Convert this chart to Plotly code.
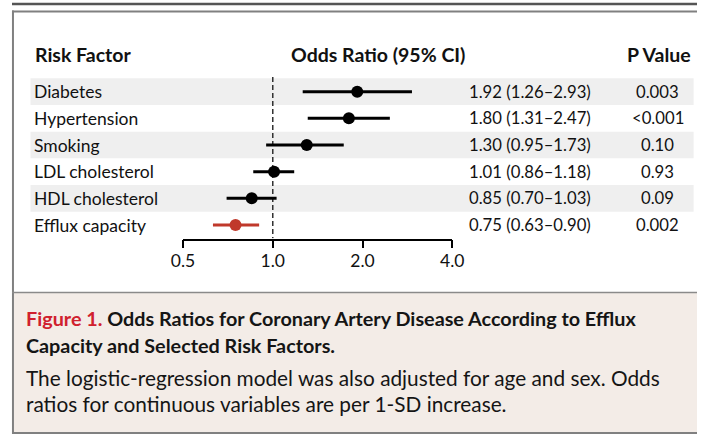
import plotly.graph_objects as go
import math

# ---- data ----
factors = ["Diabetes", "Hypertension", "Smoking", "LDL cholesterol", "HDL cholesterol", "Efflux capacity"]
odds = [1.92, 1.80, 1.30, 1.01, 0.85, 0.75]
ci_low = [1.26, 1.31, 0.95, 0.86, 0.70, 0.63]
ci_high = [2.93, 2.47, 1.73, 1.18, 1.03, 0.90]
p_values = ["0.003", "<0.001", "0.10", "0.93", "0.09", "0.002"]
tick_vals = [0.5, 1.0, 2.0, 4.0]
tick_text = ["0.5", "1.0", "2.0", "4.0"]
highlight = "Efflux capacity"

W, H = 709, 435
FONT = "Lato"
TXT = "#111111"
RED = "#C0392B"

def X(px):
    # horizontal layout position (px) -> paper fraction
    return max(0.0, min(1.0, ((px - 11.5) / 0.966) / W))

def Y(py):
    return (H - py) / H

rows = list(range(len(factors)))

fig = go.Figure()

for is_hl, color in [(False, "#000000"), (True, RED)]:
    idx = [i for i, f in enumerate(factors) if (f == highlight) == is_hl]
    fig.add_trace(go.Scatter(
        x=[odds[i] for i in idx],
        y=[rows[i] for i in idx],
        mode="markers",
        marker=dict(size=12, color=color),
        error_x=dict(
            type="data", symmetric=False,
            array=[ci_high[i] - odds[i] for i in idx],
            arrayminus=[odds[i] - ci_low[i] for i in idx],
            color=color, thickness=3, width=0,
        ),
        showlegend=False, hoverinfo="skip",
    ))

shapes = []
shapes.append(dict(type="line", xref="paper", yref="paper", x0=0, x1=1, y0=Y(4), y1=Y(4),
                   line=dict(color="#555555", width=2.5), layer="below"))
shapes.append(dict(type="rect", xref="paper", yref="paper", x0=0, x1=1, y0=Y(433), y1=Y(292.5),
                   fillcolor="#F3ECE7", line=dict(width=0), layer="below"))
shapes.append(dict(type="line", xref="paper", yref="paper", x0=0, x1=1, y0=Y(11.5), y1=Y(11.5),
                   line=dict(color="#808080", width=2), layer="below"))
shapes.append(dict(type="line", xref="paper", yref="paper", x0=1 / W, x1=1 / W, y0=Y(10.5), y1=Y(434),
                   line=dict(color="#808080", width=2), layer="below"))
shapes.append(dict(type="line", xref="paper", yref="paper", x0=0, x1=1, y0=Y(292.5), y1=Y(292.5),
                   line=dict(color="#8a8a8a", width=1.5), layer="below"))
shapes.append(dict(type="line", xref="paper", yref="paper", x0=0, x1=1, y0=Y(433), y1=Y(433),
                   line=dict(color="#808080", width=2), layer="below"))
for i in rows:
    if i % 2 == 0:
        shapes.append(dict(type="rect", xref="paper", yref="y", x0=X(30), x1=X(693),
                           y0=i - 0.5, y1=i + 0.5, fillcolor="#EFEFEF", line=dict(width=0), layer="below"))
shapes.append(dict(type="line", xref="x", yref="y", x0=1.0, x1=1.0, y0=-0.55, y1=5.5,
                   line=dict(color="#333333", width=1.5, dash="5px,3px"), layer="below"))

annotations = []
HDR = 19.5
for txt, x, anchor in [("Risk Factor", 32, "left"), ("Odds Ratio (95% CI)", 377, "center"), ("P Value", 658, "center")]:
    annotations.append(dict(text=f"<b>{txt}</b>", xref="paper", yref="paper", x=X(x), y=Y(55),
                            xanchor=anchor, yanchor="middle", showarrow=False, font=dict(size=HDR, color=TXT)))
for i, f in enumerate(factors):
    annotations.append(dict(text=f, xref="paper", yref="y", x=X(31), y=i, xanchor="left", yanchor="middle",
                            showarrow=False, font=dict(size=17.5, color=TXT)))
    ci_txt = f"{odds[i]:.2f} ({ci_low[i]:.2f}\u2013{ci_high[i]:.2f})"
    annotations.append(dict(text=ci_txt, xref="paper", yref="y", x=X(466), y=i, xanchor="left", yanchor="middle",
                            showarrow=False, font=dict(size=16.7, color=TXT)))
    annotations.append(dict(text=p_values[i], xref="paper", yref="y", x=X(657), y=i, xanchor="center",
                            yanchor="middle", showarrow=False, font=dict(size=16.7, color=TXT)))

cap_lines = [
    ("<b><span style='color:#D0202E'>Figure 1.</span> Odds Ratios for Coronary Artery Disease According to Efflux</b>", 318, 19.8),
    ("<b>Capacity and Selected Risk Factors.</b>", 345, 19.8),
    ("The logistic-regression model was also adjusted for age and sex. Odds", 377, 20.8),
    ("ratios for continuous variables are per 1-SD increase.", 403, 20.8),
]
for t, py, sz in cap_lines:
    annotations.append(dict(text=t, xref="paper", yref="paper", x=X(23), y=Y(py), xanchor="left",
                            yanchor="middle", showarrow=False, font=dict(size=sz, color="#151515")))

fig.update_layout(
    width=W, height=H,
    margin=dict(l=0, r=0, t=0, b=0, pad=0),
    paper_bgcolor="white", plot_bgcolor="rgba(0,0,0,0)",
    font=dict(family=FONT, color=TXT, size=16),
    shapes=shapes, annotations=annotations,
    xaxis=dict(
        type="log", domain=[X(182.5), X(451.7)],
        range=[math.log10(tick_vals[0]), math.log10(tick_vals[-1])],
        tickvals=tick_vals, ticktext=tick_text,
        ticks="outside", ticklen=8, tickwidth=1.5, tickcolor="#000",
        showline=True, linecolor="#000", linewidth=1.5,
        showgrid=False, zeroline=False,
        tickfont=dict(size=17.5, color=TXT),
        ticklabelstandoff=-2,
    ),
    yaxis=dict(
        domain=[Y(238.5), Y(72)],
        range=[5.506, -0.739],
        showticklabels=False, showgrid=False, zeroline=False, showline=False, ticks="",
    ),
)

fig.write_html("out.html",
               config=dict(displayModeBar=False, responsive=False),
               post_script="document.body.style.margin='0';document.body.style.overflow='hidden';")
